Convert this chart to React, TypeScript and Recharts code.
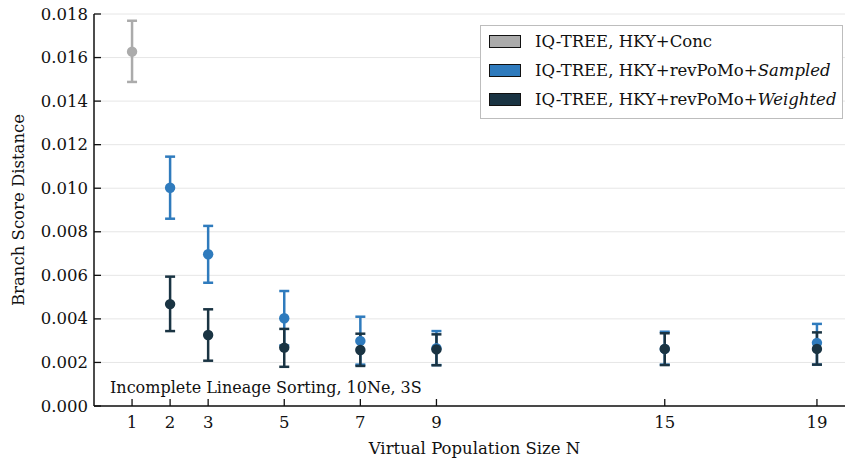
import React from "react";
import { CartesianGrid, ErrorBar, Legend, Scatter, ScatterChart, XAxis, YAxis } from "recharts";

const FONT = '"DejaVu Serif", serif';

// layout (the reference is cropped on the right, so the chart is a bit wider than the window)
const CHART_W = 870;
const CHART_H = 463;
const PLOT_LEFT = 94;
const PLOT_TOP = 14;
const PLOT_BOTTOM = 406;
const TICK_LEN = 7;

const GRAY = "#ababab";
const BLUE = "#2f7bbd";
const DARK = "#1a3443";

const xTicks = [1, 2, 3, 5, 7, 9, 15, 19];
const yTicks = [0, 0.002, 0.004, 0.006, 0.008, 0.01, 0.012, 0.014, 0.016, 0.018];

const concN = [1];
const concMean = [0.01627];
const concLow = [0.01488];
const concHigh = [0.01769];

const sampledN = [2, 3, 5, 7, 9, 15, 19];
const sampledMean = [0.01002, 0.00697, 0.00403, 0.00299, 0.00265, 0.00262, 0.0029];
const sampledLow = [0.0086, 0.00566, 0.00278, 0.0019, 0.00188, 0.0019, 0.0019];
const sampledHigh = [0.01145, 0.00827, 0.00528, 0.0041, 0.00344, 0.00341, 0.00377];

const weightedN = [2, 3, 5, 7, 9, 15, 19];
const weightedMean = [0.00468, 0.00326, 0.00268, 0.00257, 0.0026, 0.00262, 0.00262];
const weightedLow = [0.00344, 0.00208, 0.0018, 0.00184, 0.00187, 0.00188, 0.0019];
const weightedHigh = [0.00594, 0.00444, 0.00354, 0.00332, 0.00329, 0.00334, 0.00338];

const legendLabels = ["IQ-TREE, HKY+Conc", "IQ-TREE, HKY+revPoMo+", "IQ-TREE, HKY+revPoMo+"];
const legendItalic = ["", "Sampled", "Weighted"];
const legendColors = [GRAY, BLUE, DARK];

const annotation = "Incomplete Lineage Sorting, 10Ne, 3S";

function build(ns: number[], mean: number[], low: number[], high: number[]) {
  return ns.map((n, i) => ({ n, v: mean[i], err: [mean[i] - low[i], high[i] - mean[i]] }));
}

const concData = build(concN, concMean, concLow, concHigh);
const sampledData = build(sampledN, sampledMean, sampledLow, sampledHigh);
const weightedData = build(weightedN, weightedMean, weightedLow, weightedHigh);

const textStyle = { fontFamily: FONT, fontSize: 16.5, fill: "#111" };

const BottomTick = (p: any) => (
  <g>
    <line x1={p.x} x2={p.x} y1={PLOT_BOTTOM} y2={PLOT_BOTTOM - TICK_LEN} stroke="#111" strokeWidth={1.3} />
    <text x={p.x} y={PLOT_BOTTOM + 16} textAnchor="middle" dominantBaseline="central" style={textStyle}>
      {p.payload.value}
    </text>
  </g>
);

const TopTick = (p: any) => (
  <line x1={p.x} x2={p.x} y1={PLOT_TOP} y2={PLOT_TOP + TICK_LEN} stroke="#111" strokeWidth={1.3} />
);

const LeftTick = (p: any) => (
  <g>
    <line x1={PLOT_LEFT} x2={PLOT_LEFT + TICK_LEN} y1={p.y} y2={p.y} stroke="#111" strokeWidth={1.3} />
    <text x={PLOT_LEFT - 6} y={p.y} textAnchor="end" dominantBaseline="central" style={textStyle}>
      {Number(p.payload.value).toFixed(3)}
    </text>
  </g>
);

const XTitle = (p: any) => {
  const vb = p.viewBox || {};
  return (
    <text x={vb.x + vb.width / 2} y={448} textAnchor="middle" dominantBaseline="central" style={textStyle}>
      Virtual Population Size N
    </text>
  );
};

const YTitle = (p: any) => {
  const vb = p.viewBox || {};
  const cy = vb.y + vb.height / 2;
  return (
    <text
      x={18}
      y={cy}
      transform={`rotate(-90 18 ${cy})`}
      textAnchor="middle"
      dominantBaseline="central"
      style={textStyle}
    >
      Branch Score Distance
    </text>
  );
};

const LegendBox = () => (
  <div
    style={{
      width: 361,
      height: 91,
      border: "1px solid #bdbdbd",
      background: "#fff",
      fontFamily: FONT,
      fontSize: 16.5,
      color: "#111",
      paddingTop: 1,
      boxSizing: "content-box",
    }}
  >
    {legendLabels.map((label, i) => (
      <div key={i} style={{ height: 29, display: "flex", alignItems: "center" }}>
        <span
          style={{
            display: "inline-block",
            width: 30,
            height: 11,
            marginLeft: 8,
            marginRight: 14,
            background: legendColors[i],
            border: "1.3px solid #111",
          }}
        />
        <span style={{ whiteSpace: "nowrap" }}>
          {label}
          {legendItalic[i] && <i>{legendItalic[i]}</i>}
        </span>
      </div>
    ))}
  </div>
);

const dot = (color: string) => (p: any) => <circle cx={p.cx} cy={p.cy} r={5.2} fill={color} />;

export default function App() {
  return (
    <div
      style={{
        position: "absolute",
        left: 0,
        top: 0,
        width: 845,
        height: 463,
        overflow: "hidden",
        background: "#fff",
      }}
    >
      <ScatterChart width={CHART_W} height={CHART_H} margin={{ top: PLOT_TOP, right: 15, bottom: 0, left: 0 }}>
        <CartesianGrid vertical={false} stroke="#e6e6e6" strokeWidth={1} />
        <XAxis
          dataKey="n"
          type="number"
          domain={[0, 20]}
          ticks={xTicks}
          height={CHART_H - PLOT_BOTTOM}
          tickLine={false}
          tick={<BottomTick />}
          axisLine={{ stroke: "#111", strokeWidth: 1.5 }}
          label={<XTitle />}
          allowDataOverflow
        />
        <XAxis
          xAxisId="top"
          orientation="top"
          type="number"
          domain={[0, 20]}
          ticks={xTicks}
          height={0}
          tickLine={false}
          tick={<TopTick />}
          axisLine={{ stroke: "#111", strokeWidth: 1.5 }}
        />
        <YAxis
          dataKey="v"
          type="number"
          domain={[0, 0.018]}
          ticks={yTicks}
          width={PLOT_LEFT}
          tickLine={false}
          tick={<LeftTick />}
          axisLine={{ stroke: "#111", strokeWidth: 1.5 }}
          label={<YTitle />}
        />
        <Legend
          layout="horizontal"
          verticalAlign="middle"
          align="center"
          content={<LegendBox />}
          wrapperStyle={{ left: 480, top: 25, width: 363, height: 93 }}
        />
        <Scatter name="Conc" data={concData} fill={GRAY} shape={dot(GRAY)} isAnimationActive={false}>
          <ErrorBar dataKey="err" direction="y" width={5} stroke={GRAY} strokeWidth={2.5} isAnimationActive={false} />
        </Scatter>
        <Scatter name="Sampled" data={sampledData} fill={BLUE} shape={dot(BLUE)} isAnimationActive={false}>
          <ErrorBar dataKey="err" direction="y" width={5} stroke={BLUE} strokeWidth={2.5} isAnimationActive={false} />
        </Scatter>
        <Scatter name="Weighted" data={weightedData} fill={DARK} shape={dot(DARK)} isAnimationActive={false}>
          <ErrorBar dataKey="err" direction="y" width={5} stroke={DARK} strokeWidth={2.5} isAnimationActive={false} />
        </Scatter>
      </ScatterChart>
      <div
        style={{
          position: "absolute",
          left: 110,
          top: 378,
          lineHeight: "20px",
          fontFamily: FONT,
          fontSize: 16,
          color: "#111",
          whiteSpace: "nowrap",
        }}
      >
        {annotation}
      </div>
    </div>
  );
}
